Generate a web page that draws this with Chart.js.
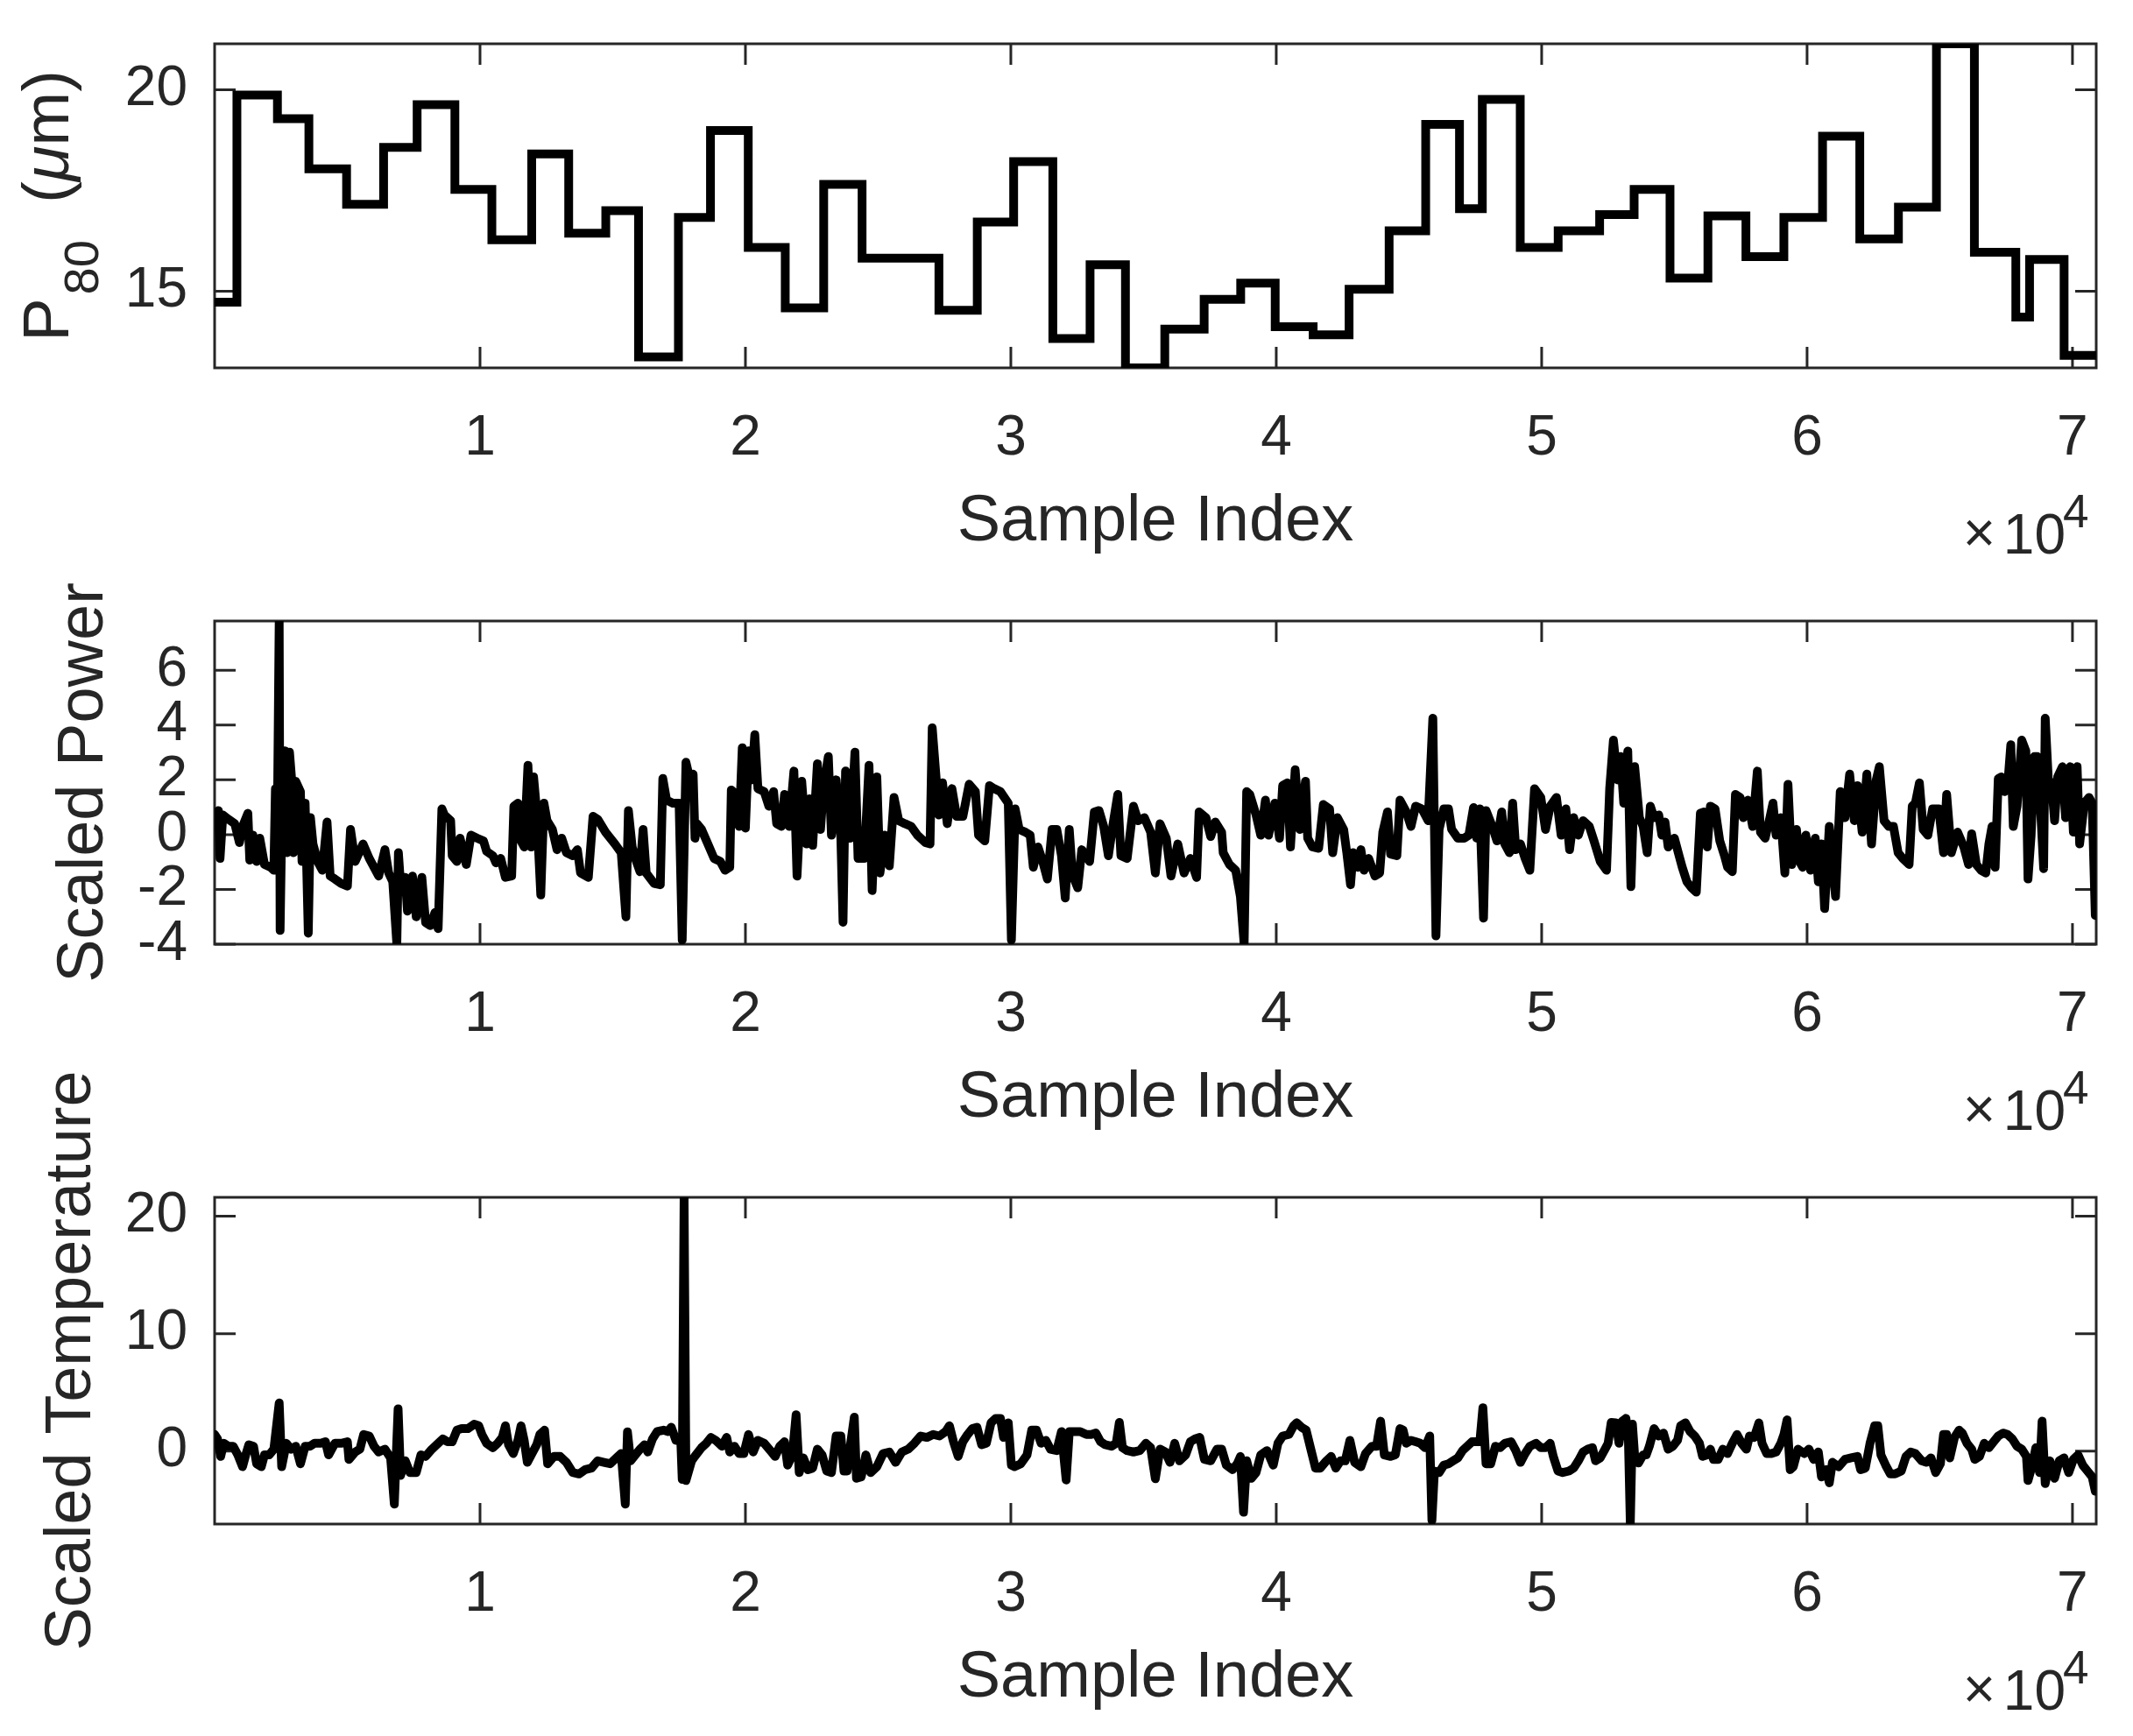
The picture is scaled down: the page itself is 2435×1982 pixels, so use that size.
<!DOCTYPE html>
<html>
<head>
<meta charset="utf-8">
<title>P80, scaled power and scaled temperature vs sample index</title>
<script src="https://cdn.jsdelivr.net/npm/chart.js@4.4.1/dist/chart.umd.min.js"></script>
<style>
  html, body { margin: 0; padding: 0; background: #fff; }
  body { width: 2435px; height: 1982px; position: relative; overflow: hidden; }
  canvas { position: absolute; left: 0; }
</style>
</head>
<body>
<canvas id="p80Chart" width="2435" height="660" style="top:0px"></canvas>
<canvas id="powerChart" width="2435" height="880" style="top:440px"></canvas>
<canvas id="tempChart" width="2435" height="882" style="top:1100px"></canvas>
<script>
// ---- data ----
var sampleEnd = 70894;
var xTickValues = [10000, 20000, 30000, 40000, 50000, 60000, 70000];
var xTickLabels = ["1", "2", "3", "4", "5", "6", "7"];

// P80 is piecewise constant: each level starts at the given sample index
var p80StepStart = [0, 840, 2367, 3552, 4972, 6367, 7630, 9053, 10446, 11948,
  13341, 14738, 15972, 17475, 18683, 20106, 21500, 22949, 24395, 27290,
  28735, 30106, 31582, 32985, 34318, 35800, 37283, 38660, 39960, 41390,
  42744, 44253, 45630, 46904, 47764, 49193, 50622, 52184, 53484, 54836,
  56264, 57696, 59126, 60583, 61986, 63442, 64874, 66304, 67865, 68383, 69684];
var p80StepValue = [14.73, 19.87, 19.28, 18.04, 17.16, 18.57, 19.63, 17.53, 16.28, 18.41,
  16.44, 17.00, 13.37, 16.83, 18.99, 16.09, 14.59, 17.65, 15.82, 14.53,
  16.72, 18.22, 13.83, 15.66, 13.10, 14.06, 14.80, 15.20, 14.12, 13.92,
  15.05, 16.50, 19.14, 17.05, 19.76, 16.09, 16.50, 16.90, 17.53, 15.33,
  16.87, 15.86, 16.83, 18.85, 16.30, 17.09, 21.14, 15.97, 14.36, 15.79, 13.41];
var p80Ticks = [15, 20];

var powerIndex = [0, 145, 204, 310, 522, 758, 935, 1053, 1253, 1324, 1442, 1583, 1701, 1878, 2114, 2232, 2291, 2350, 2433, 2468,
  2551, 2645, 2739, 2822, 2904, 2975, 3057, 3234, 3293, 3411, 3529, 3611, 3706, 3883, 4059, 4236, 4354, 4531, 4767, 5003,
  5120, 5297, 5592, 5828, 6005, 6182, 6417, 6559, 6712, 6866, 6925, 7007, 7184, 7266, 7455, 7596, 7808, 7950, 8127, 8304,
  8422, 8563, 8657, 8893, 8952, 9129, 9247, 9483, 9660, 9895, 10131, 10249, 10485, 10603, 10780, 10957, 11192, 11275, 11428, 11546,
  11664, 11806, 11924, 12018, 12136, 12289, 12407, 12525, 12726, 12902, 13079, 13256, 13492, 13669, 13787, 14081, 14258, 14435, 14730, 15084,
  15320, 15497, 15591, 15733, 15851, 16026, 16144, 16262, 16557, 16793, 16887, 17029, 17264, 17500, 17618, 17759, 17912, 18030, 18100, 18172,
  18348, 18584, 18820, 19056, 19233, 19410, 19468, 19645, 19763, 19881, 19999, 20117, 20235, 20353, 20471, 20706, 20883, 21060, 21178, 21355,
  21473, 21650, 21826, 21944, 22121, 22298, 22416, 22534, 22711, 22829, 22947, 23123, 23241, 23418, 23595, 23677, 23772, 23949, 24126, 24243,
  24479, 24656, 24774, 24951, 25069, 25246, 25422, 25599, 25776, 26012, 26248, 26484, 26778, 26955, 27038, 27191, 27285, 27427, 27604, 27780,
  27957, 28193, 28429, 28665, 28783, 29018, 29195, 29372, 29608, 29903, 30021, 30162, 30315, 30551, 30728, 30846, 31023, 31200, 31376, 31553,
  31730, 31907, 32048, 32202, 32320, 32520, 32673, 32968, 33145, 33322, 33498, 33675, 33852, 34029, 34147, 34383, 34619, 34795, 35031, 35267,
  35444, 35621, 35857, 36034, 36291, 36527, 36763, 36999, 37093, 37352, 37529, 37706, 37942, 38001, 38237, 38472, 38649, 38791, 38885, 39003,
  39239, 39416, 39593, 39710, 39946, 40123, 40241, 40418, 40536, 40713, 40889, 41102, 41184, 41361, 41597, 41774, 42009, 42127, 42304, 42540,
  42658, 42799, 42894, 43071, 43188, 43306, 43483, 43719, 43896, 44014, 44191, 44309, 44544, 44662, 44898, 45075, 45252, 45488, 45723, 45900,
  46018, 46136, 46313, 46490, 46608, 46843, 47079, 47256, 47433, 47551, 47669, 47810, 47904, 48140, 48317, 48494, 48612, 48789, 48907, 49025,
  49201, 49378, 49555, 49732, 49968, 50145, 50321, 50557, 50734, 50911, 51052, 51206, 51383, 51559, 51795, 51972, 52208, 52444, 52562, 52703,
  52856, 52974, 53092, 53245, 53363, 53505, 53682, 53823, 53976, 54094, 54235, 54412, 54530, 54648, 54766, 55002, 55178, 55296, 55473, 55650,
  55827, 55980, 56122, 56240, 56357, 56534, 56711, 56888, 57006, 57183, 57301, 57477, 57595, 57772, 57949, 58126, 58244, 58421, 58598, 58715,
  58833, 59010, 59163, 59281, 59423, 59600, 59718, 59835, 59953, 60130, 60307, 60425, 60543, 60661, 60838, 61073, 61250, 61427, 61604, 61781,
  61899, 62076, 62252, 62429, 62606, 62724, 62901, 63078, 63255, 63431, 63608, 63844, 63962, 64080, 64233, 64375, 64551, 64728, 64964, 65141,
  65259, 65436, 65672, 65907, 66084, 66202, 66379, 66556, 66733, 66851, 66968, 67086, 67204, 67322, 67440, 67558, 67676, 67770, 67912, 68088,
  68242, 68324, 68442, 68560, 68678, 68796, 68914, 68973, 69091, 69209, 69326, 69444, 69621, 69739, 69916, 70034, 70175, 70270, 70446, 70623,
  70741, 70859, 70894];
var powerValue = [0.62, 0.88, -0.87, 0.72, 0.56, 0.40, -0.29, 0.30, 0.78, -0.93, -0.02, -0.98, -0.13, -1.09, -1.19, -1.30, 1.68, -0.98, 7.80, -3.50,
  1.68, 3.06, -0.66, 3.01, 2.00, -0.66, 1.95, 1.57, -0.98, 1.15, -3.60, 0.62, -0.34, -0.98, -1.30, 0.46, -1.51, -1.62, -1.78, -1.88,
  0.19, -0.98, -0.34, -0.87, -1.19, -1.51, -0.55, -1.40, -1.72, -4.00, -0.66, -1.83, -1.56, -2.79, -1.51, -3.00, -1.56, -3.21, -3.32, -2.84,
  -3.43, 0.94, 0.72, 0.51, -0.77, -0.98, -0.13, -1.09, -0.02, -0.13, -0.23, -0.61, -0.77, -1.03, -0.87, -1.56, -1.51, 1.04, 1.15, -0.23,
  -0.45, 2.53, -0.45, 2.11, 0.83, -2.20, 1.15, 0.51, 0.19, -0.55, -0.13, -0.66, -0.77, -0.55, -1.40, -1.56, 0.67, 0.56, 0.09, -0.34,
  -0.66, -3.00, 0.88, -0.45, -0.87, -1.35, 0.19, -1.40, -1.78, -1.83, 2.05, 1.26, 1.15, 1.15, -3.85, 2.64, 2.00, 2.21, -0.13, 0.40,
  0.19, -0.34, -0.87, -0.98, -1.30, -1.19, 1.63, 1.47, 0.30, 3.17, 0.24, 3.06, 2.00, 3.65, 1.68, 1.57, 1.04, 1.57, 0.40, 0.30,
  1.47, 0.30, 2.32, -1.51, 1.95, -0.34, 1.31, -0.39, 2.59, 0.19, 1.79, 2.85, -0.02, 2.00, -0.13, -3.20, 2.32, -0.13, 3.01, -0.87,
  -0.87, 2.53, -2.04, 2.11, -1.40, -0.02, -1.14, 1.36, 0.51, 0.40, 0.30, -0.02, -0.29, -0.34, 3.90, 2.00, 0.72, 1.89, 0.40, 1.68,
  0.67, 0.67, 1.84, 1.57, -0.02, -0.23, 1.79, 1.68, 1.57, 1.15, -3.85, 0.94, 0.19, 0.09, -0.02, -1.19, -0.45, -0.98, -1.62, 0.19,
  0.19, -0.77, -2.31, 0.19, -1.46, -1.94, -0.55, -0.98, 0.83, 0.88, 0.30, -0.77, 0.40, 1.47, -0.77, -0.87, 1.04, 0.51, 0.62, 0.09,
  -1.40, 0.40, -0.13, -1.51, -0.34, -1.40, -0.87, -1.56, 0.83, 0.62, -0.07, 0.46, 0.09, -0.66, -1.09, -1.30, -2.26, -4.00, 1.57, 1.47,
  0.72, -0.02, 1.26, -0.02, 1.15, -0.13, 1.79, 1.89, -0.45, 2.37, 0.19, 1.95, -0.13, -0.45, -0.50, 1.10, 0.94, -0.66, 0.62, 0.19,
  -0.66, -1.83, -0.66, -1.19, -0.55, -1.30, -0.87, -1.51, -1.40, 0.09, 0.83, -0.71, -0.77, 1.26, 0.83, 0.30, 1.04, 0.94, 0.51, 4.25,
  -3.70, 0.19, 0.94, 0.94, 0.19, -0.13, -0.13, -0.02, 0.99, -0.13, 0.94, -3.05, 0.88, 0.30, -0.23, 0.83, -0.34, -0.66, 1.15, -0.55,
  -0.34, -0.87, -1.30, 1.68, 1.36, 0.19, 1.04, 1.36, -0.02, 0.94, -0.55, 0.62, -0.02, 0.51, 0.30, -0.23, -0.98, -1.30, 1.68, 3.45,
  2.00, 2.85, 1.15, 3.05, -1.90, 2.48, 0.62, 0.30, -0.66, 1.04, 0.62, 0.72, -0.02, 0.46, -0.45, -0.13, -0.77, -1.19, -1.72, -1.94,
  -2.10, 0.78, 0.83, -0.45, 1.04, 0.94, -0.23, -0.77, -1.19, -1.35, 1.47, 1.36, 0.62, 1.26, 0.30, 2.32, 0.09, -0.13, 0.62, 1.15,
  -0.02, 0.62, -1.40, 1.84, -1.09, 0.19, -0.98, -1.19, -0.02, -1.30, -0.13, -1.72, -0.34, -2.70, 0.30, -2.26, 1.57, 0.62, 2.21, 0.51,
  1.79, 0.09, 2.21, -0.34, 2.00, 2.48, 0.51, 0.30, 0.30, -0.66, -0.87, -1.09, 1.04, 1.15, 1.89, 0.19, -0.02, 0.94, 0.94, -0.66,
  1.47, -0.66, 0.09, -0.45, -1.09, 0.03, -1.09, -1.30, -1.40, -0.34, 0.30, -1.19, 2.05, 2.11, 1.57, 1.79, 3.28, 0.30, 1.04, 3.45,
  3.06, -1.62, -0.02, 2.85, 2.85, 0.94, -1.24, 4.25, 2.00, 1.89, 0.51, 2.11, 2.48, 0.62, 2.48, 0.09, 2.48, -0.34, 1.15, 1.36,
  1.15, -2.95, -2.90];
var powerTicks = [-4, -2, 0, 2, 4, 6];

var tempIndex = [0, 110, 228, 345, 522, 699, 876, 1053, 1171, 1289, 1466, 1583, 1760, 1878, 2055, 2232, 2433, 2527, 2704, 2881,
  3057, 3234, 3411, 3588, 3765, 4001, 4177, 4295, 4531, 4767, 5003, 5061, 5297, 5474, 5615, 5828, 6005, 6182, 6417, 6630,
  6771, 6913, 7007, 7184, 7360, 7596, 7773, 7950, 8186, 8422, 8598, 8775, 8952, 9129, 9306, 9542, 9777, 9954, 10072, 10249,
  10485, 10662, 10839, 10957, 11074, 11251, 11428, 11546, 11664, 11782, 11959, 12136, 12254, 12431, 12548, 12784, 13020, 13256, 13492, 13728,
  13964, 14199, 14435, 14671, 14907, 15142, 15319, 15473, 15555, 15673, 15851, 16026, 16203, 16321, 16498, 16675, 16911, 17087, 17205, 17382,
  17559, 17618, 17689, 17759, 17972, 18089, 18348, 18525, 18702, 18879, 19115, 19292, 19410, 19586, 19763, 19940, 20117, 20294, 20471, 20706,
  20942, 21119, 21296, 21473, 21591, 21768, 21909, 22027, 22180, 22357, 22534, 22711, 22888, 23064, 23241, 23418, 23595, 23713, 23831, 23949,
  24102, 24184, 24361, 24538, 24715, 24951, 25187, 25422, 25658, 25894, 26130, 26366, 26601, 26837, 27073, 27309, 27545, 27686, 27839, 28016,
  28193, 28370, 28547, 28724, 28900, 29077, 29254, 29431, 29608, 29726, 29903, 30021, 30138, 30374, 30610, 30787, 30964, 31141, 31317, 31494,
  31730, 31907, 32084, 32202, 32379, 32614, 32850, 33027, 33204, 33381, 33557, 33793, 33970, 34088, 34206, 34383, 34619, 34855, 35090, 35267,
  35444, 35621, 35820, 35997, 36173, 36350, 36586, 36763, 36940, 37117, 37293, 37529, 37765, 37942, 38119, 38355, 38531, 38649, 38767, 38885,
  39062, 39239, 39416, 39651, 39887, 40064, 40241, 40477, 40654, 40772, 40948, 41125, 41302, 41479, 41656, 41892, 42068, 42245, 42422, 42599,
  42776, 42953, 43188, 43365, 43601, 43778, 43931, 44073, 44309, 44485, 44662, 44780, 44898, 45075, 45252, 45429, 45605, 45782, 45865, 45959,
  46136, 46313, 46490, 46667, 46843, 47020, 47197, 47374, 47551, 47669, 47786, 47904, 48081, 48258, 48435, 48612, 48848, 49025, 49201, 49378,
  49555, 49791, 49968, 50145, 50321, 50439, 50616, 50793, 51029, 51206, 51383, 51559, 51736, 51913, 52031, 52208, 52385, 52503, 52621, 52797,
  52915, 53033, 53175, 53269, 53340, 53420, 53520, 53650, 53823, 53940, 54058, 54235, 54412, 54589, 54766, 54943, 55119, 55237, 55414, 55591,
  55768, 55945, 56063, 56240, 56357, 56475, 56652, 56829, 57006, 57183, 57360, 57536, 57713, 57831, 58008, 58185, 58303, 58480, 58656, 58833,
  59010, 59128, 59246, 59364, 59482, 59659, 59894, 60071, 60248, 60425, 60543, 60720, 60838, 60956, 61192, 61427, 61663, 61899, 62017, 62194,
  62371, 62547, 62665, 62783, 62960, 63137, 63314, 63549, 63726, 63903, 64080, 64316, 64493, 64669, 64846, 65023, 65141, 65259, 65377, 65554,
  65730, 65848, 66025, 66202, 66320, 66497, 66674, 66851, 67027, 67204, 67382, 67558, 67735, 67912, 68088, 68265, 68324, 68501, 68619, 68760,
  68855, 68973, 69150, 69326, 69503, 69680, 69857, 70034, 70211, 70388, 70564, 70741, 70859, 70894];
var tempValue = [1.42, 1.04, -0.45, 0.67, 0.42, 0.42, -0.32, -1.32, -0.32, 0.55, 0.42, -1.07, -1.32, -0.32, -0.32, 0.17, 4.10, -1.32, 0.67, 0.17,
  0.42, -1.07, 0.42, 0.42, 0.67, 0.67, 0.80, -0.32, 0.67, 0.67, 0.80, -0.70, -0.07, 0.17, 1.42, 1.29, 0.42, -0.07, 0.17, -0.57,
  -4.50, 3.60, -2.06, -0.82, -1.82, -1.82, -0.32, -0.45, 0.17, 0.67, 1.04, 0.80, 0.80, 1.79, 1.92, 1.92, 2.29, 2.16, 1.42, 0.67,
  0.30, 0.67, 1.17, 2.16, 0.55, -0.20, 0.92, 2.16, 0.92, -0.95, -0.20, 0.55, 1.42, 1.79, -1.07, -0.45, -0.45, -0.95, -1.82, -1.94,
  -1.57, -1.44, -0.82, -0.95, -1.07, -0.57, -0.20, -4.50, 1.65, -0.82, -0.32, 0.17, 0.55, -0.07, 1.04, 1.67, 1.79, 1.67, 2.04, 0.92,
  1.17, -2.40, 21.60, -2.50, -0.82, -0.45, 0.30, 0.67, 1.17, 0.92, 0.42, 1.17, -0.07, 0.42, -0.20, -0.20, 1.42, -0.07, 0.92, 0.67,
  0.05, -0.45, 0.42, 0.80, -1.19, -0.32, 3.10, -1.82, -0.57, -1.57, -1.44, 0.17, -0.32, -1.69, -1.82, 1.29, 1.29, -1.69, -1.69, 0.42,
  2.90, -2.31, -2.19, -0.32, -1.82, -1.32, -0.20, -0.07, -0.95, -0.07, 0.17, 0.67, 1.29, 1.17, 1.42, 1.29, 1.67, 2.16, 0.80, -0.45,
  0.80, 1.42, 1.92, 2.04, 0.55, 0.67, 2.41, 2.79, 2.79, 1.17, 2.41, -1.19, -1.32, -1.07, -0.32, 1.79, 1.79, 0.67, 0.92, 0.17,
  0.05, 1.67, -2.45, 1.67, 1.67, 1.67, 1.42, 1.42, 1.54, 0.80, 0.55, 0.42, 0.67, 2.45, 0.30, 0.05, -0.07, 0.05, 0.67, 0.30,
  -2.35, 0.17, -0.07, -0.95, 0.67, -0.82, -0.32, 0.80, 1.04, 1.17, -0.70, -0.82, 0.17, 0.17, -1.19, -1.57, -1.07, -0.45, -5.20, -0.82,
  -2.31, -1.82, -0.32, 0.05, -1.19, 0.67, 1.29, 1.42, 2.16, 2.41, 2.04, 1.79, 0.17, -1.44, -1.44, -0.82, -0.45, -1.44, -0.82, -0.82,
  0.92, -0.95, -1.32, -0.20, 0.42, 0.42, 2.55, -0.32, -0.45, -0.32, 1.92, 1.79, 0.67, 0.92, 0.80, 0.67, 0.30, 1.29, -5.90, -1.69,
  -1.82, -1.19, -1.07, -0.82, -0.57, 0.05, 0.42, 0.80, 0.80, 0.80, 3.70, -1.07, -1.07, 0.42, 0.30, 0.67, 0.80, 0.05, -0.95, -0.20,
  0.42, 0.67, 0.30, 0.30, 0.67, -0.45, -1.69, -1.82, -1.69, -1.44, -0.82, -0.07, 0.17, 0.30, -0.82, -0.57, 0.17, 0.67, 2.45, 2.41,
  0.67, 2.54, 2.79, 0.92, -6.20, 2.30, -0.90, -1.00, -0.32, -0.32, 0.42, 1.92, 1.29, 1.54, 0.17, 0.42, 0.92, 2.16, 2.41, 1.67,
  1.29, 0.67, -0.45, -0.32, 0.17, -0.70, -0.70, 0.17, -0.20, 0.67, 1.42, 0.67, 0.17, 1.29, 1.17, 2.41, 0.67, -0.20, -0.20, -0.07,
  0.67, 1.42, 2.66, -1.57, -1.32, 0.17, -0.20, 0.17, -0.70, -0.07, -2.19, -1.57, -2.69, -0.95, -1.32, -0.70, -0.57, -0.45, -1.57, -1.44,
  0.67, 2.16, 2.16, -0.32, -1.19, -1.94, -1.94, -1.69, -0.45, -0.07, -0.20, -0.82, -0.95, -0.57, -1.82, -1.07, 1.42, 1.42, -0.57, 1.17,
  1.79, 1.54, 0.67, 0.17, -0.70, -0.45, 0.67, 0.30, 0.80, 1.29, 1.54, 1.42, 1.04, 0.42, 0.17, -0.45, -2.50, -1.07, 0.30, -1.82,
  2.55, -2.75, -0.82, -2.31, -0.82, -0.57, -1.82, -0.70, -0.32, -1.19, -1.69, -2.19, -3.40, -3.40];
var tempTicks = [0, 10, 20];

// ---- styling ----
var fontFamily = "'Liberation Sans', Arial, Helvetica, sans-serif";
var axisColor = "#262626";
Chart.defaults.font.family = fontFamily;

function toPoints(xs, ys) {
  return xs.map(function (x, i) { return { x: x, y: ys[i] }; });
}

// box, inward tick marks on all four sides, and the extra labels
var axesFrame = {
  id: "axesFrame",
  beforeDatasetsDraw: function (chart) {
    var ctx = chart.ctx, a = chart.chartArea;
    var xs = chart.scales.x, ys = chart.scales.y;
    var len = 24;
    ctx.save();
    ctx.strokeStyle = axisColor;
    ctx.lineWidth = 3;
    ctx.strokeRect(a.left, a.top, a.right - a.left, a.bottom - a.top);
    ctx.beginPath();
    xs.ticks.forEach(function (t) {
      var px = xs.getPixelForValue(t.value);
      ctx.moveTo(px, a.bottom); ctx.lineTo(px, a.bottom - len);
      ctx.moveTo(px, a.top); ctx.lineTo(px, a.top + len);
    });
    ys.ticks.forEach(function (t) {
      var py = ys.getPixelForValue(t.value);
      ctx.moveTo(a.left, py); ctx.lineTo(a.left + len, py);
      ctx.moveTo(a.right, py); ctx.lineTo(a.right - len, py);
    });
    ctx.stroke();
    ctx.restore();
  },
  afterDraw: function (chart, args, opts) {
    var ctx = chart.ctx, a = chart.chartArea;
    ctx.save();
    ctx.fillStyle = axisColor;
    ctx.textBaseline = "alphabetic";
    // x10^4 exponent label
    ctx.font = "64px " + fontFamily;
    ctx.textAlign = "right";
    ctx.fillText("10", 2358, a.bottom + 212);
    ctx.fillText("\u00d7", 2278, a.bottom + 210);
    ctx.font = "53px " + fontFamily;
    ctx.textAlign = "left";
    ctx.fillText("4", 2355, a.bottom + 182);
    if (opts.p80Label) drawP80Label(ctx, 78, (a.top + a.bottom) / 2);
    ctx.restore();
  }
};

function drawP80Label(ctx, baseX, cy) {
  var big = "74px " + fontFamily, sub = "56px " + fontFamily, ital = "italic 74px " + fontFamily;
  ctx.save();
  ctx.translate(baseX, cy);
  ctx.rotate(-Math.PI / 2);
  ctx.textAlign = "left";
  ctx.font = big;
  var wP = ctx.measureText("P").width;
  var wOpen = ctx.measureText(" (").width;
  var wClose = ctx.measureText("m)").width;
  ctx.font = sub;
  var wSub = ctx.measureText("80").width;
  ctx.font = ital;
  var wMu = ctx.measureText("\u03bc").width;
  var gap = 22;
  var total = wP + 4 + wSub + gap + wOpen + wMu + wClose;
  var x = -total / 2;
  ctx.font = big; ctx.fillText("P", x, 0); x += wP + 4;
  ctx.font = sub; ctx.fillText("80", x, 34); x += wSub + gap;
  ctx.font = big; ctx.fillText(" (", x, 0); x += wOpen;
  ctx.font = ital; ctx.fillText("\u03bc", x, 0); x += wMu;
  ctx.font = big; ctx.fillText("m)", x, 0);
  ctx.restore();
}

function makePanel(canvasId, cfg) {
  var canvas = document.getElementById(canvasId);
  return new Chart(canvas, {
    type: "line",
    data: {
      datasets: [{
        data: cfg.points,
        borderColor: "#000000",
        borderWidth: 10,
        pointRadius: 0,
        tension: 0,
        fill: false,
        stepped: cfg.stepped || false,
        borderJoinStyle: cfg.join,
        borderCapStyle: "round"
      }]
    },
    options: {
      responsive: false,
      animation: false,
      devicePixelRatio: 1,
      events: [],
      layout: { padding: { left: 0, right: 42, top: cfg.plotTop, bottom: 0 } },
      plugins: {
        legend: { display: false },
        tooltip: { enabled: false },
        axesFrame: { p80Label: cfg.p80Label || false }
      },
      scales: {
        x: {
          type: "linear",
          min: 0,
          max: sampleEnd,
          grid: { display: false, drawTicks: false },
          border: { display: false },
          afterBuildTicks: function (s) {
            s.ticks = xTickValues.map(function (v) { return { value: v }; });
          },
          afterFit: function (s) {
            s.height = canvas.height - cfg.plotBottom;
            s.paddingLeft = 0; s.paddingRight = 0;
          },
          ticks: {
            autoSkip: false,
            maxRotation: 0,
            padding: 43,
            color: axisColor,
            font: { size: 64 },
            callback: function (v) { return xTickLabels[xTickValues.indexOf(v)]; }
          },
          title: {
            display: true,
            text: "Sample Index",
            color: axisColor,
            font: { size: 74 },
            padding: { top: 0, bottom: cfg.xTitlePad }
          }
        },
        y: {
          type: "linear",
          min: cfg.yMin,
          max: cfg.yMax,
          grid: { display: false, drawTicks: false },
          border: { display: false },
          afterBuildTicks: function (s) {
            s.ticks = cfg.yTicks.map(function (v) { return { value: v }; });
          },
          afterFit: function (s) {
            s.width = 245;
            s.paddingTop = 0; s.paddingBottom = 0;
          },
          ticks: {
            autoSkip: false,
            padding: 31,
            color: axisColor,
            font: { size: 64 },
            callback: function (v) { return String(v); }
          },
          title: {
            display: !!cfg.yTitle,
            text: cfg.yTitle || "",
            color: axisColor,
            font: { size: 74 },
            padding: { top: cfg.yTitlePad || 0, bottom: 0 }
          }
        }
      }
    },
    plugins: [axesFrame]
  });
}

var p80Points = toPoints(p80StepStart, p80StepValue);
p80Points.push({ x: sampleEnd, y: p80StepValue[p80StepValue.length - 1] });

// canvases: p80 at page y 0, power at 440, temperature at 1100
makePanel("p80Chart", {
  points: p80Points, stepped: "before", join: "miter",
  plotTop: 50, plotBottom: 420, xTitlePad: 19,
  yMin: 13.1, yMax: 21.14, yTicks: p80Ticks, p80Label: true
});
makePanel("powerChart", {
  points: toPoints(powerIndex, powerValue), join: "round",
  plotTop: 269, plotBottom: 638, xTitlePad: 21,
  yMin: -4, yMax: 7.8, yTicks: powerTicks,
  yTitle: "Scaled Power", yTitlePad: 52
});
makePanel("tempChart", {
  points: toPoints(tempIndex, tempValue), join: "round",
  plotTop: 267, plotBottom: 640, xTitlePad: 21,
  yMin: -6.2, yMax: 21.6, yTicks: tempTicks,
  yTitle: "Scaled Temperature", yTitlePad: 38
});
</script>
</body>
</html>
